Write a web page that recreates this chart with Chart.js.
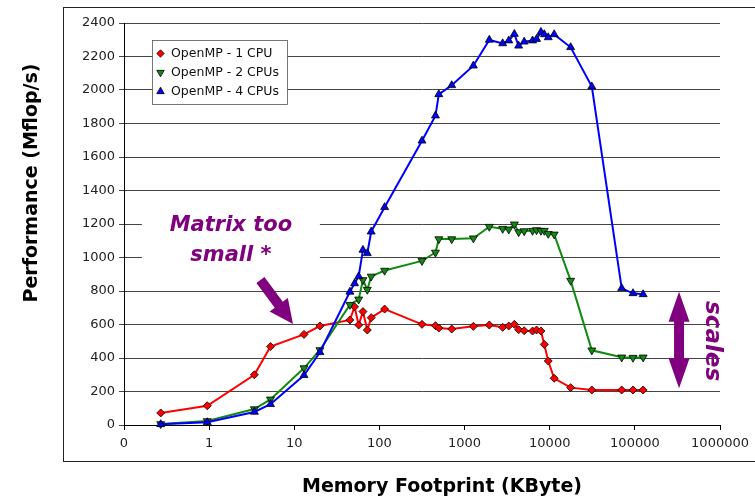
<!DOCTYPE html>
<html>
<head>
<meta charset="utf-8">
<script src="https://cdn.jsdelivr.net/npm/chart.js@4.4.1/dist/chart.umd.min.js"></script>
<style>
  html,body{margin:0;padding:0;background:#fff;}
  #wrap{width:755px;height:497px;position:relative;}
</style>
</head>
<body>
<div id="wrap"><canvas id="chart"></canvas></div>
<script>
// memory footprint (KByte), shared by all three runs
const sizes = [0.27, 0.95, 3.4, 5.25, 13, 20, 45, 51, 57, 64, 72, 80, 115, 316, 455, 498, 706, 1268, 1950,
  2800, 3300, 3840, 4310, 5010, 6280, 7000, 7880, 8630, 9600, 11270, 17600, 31200, 70000, 95000, 125000];
// Mflop/s (null = no mark visible)
const cpu1 = [72, 115, 300, 468, 541, 591, 627, 706, 597, 677, 567, 641, 692, 601, 593, 579, 573, 589, 597,
  583, 591, 601, 569, 563, 561, 567, 561, 481, 382, 279, 223, 209, 209, 209, 209];
const cpu2 = [6, 24, 95, 153, 340, 448, 718, null, 750, 866, 808, 887, 922, 980, 1030, 1110, 1110, 1115, 1184,
  1172, 1168, 1198, 1152, 1158, 1160, 1164, 1160, 1160, 1142, 1138, 862, 446, 404, 402, 404];
const cpu4 = [4, 16, 78, 124, 297, 434, 795, 845, 887, 1045, 1025, 1154, 1300, 1697, 1847, 1974, 2028, 2145, 2299,
  2278, 2295, 2334, 2264, 2288, 2295, 2304, 2346, 2332, 2314, 2332, 2255, 2020, 816, 786, 780];

const seriesNames = ['OpenMP - 1 CPU', 'OpenMP - 2 CPUs', 'OpenMP - 4 CPUs'];
const xTickValues = [0.1, 1, 10, 100, 1000, 10000, 100000, 1000000];
const xTickLabels = ['0', '1', '10', '100', '1000', '10000', '100000', '1000000'];

const FONT = '"DejaVu Sans", Verdana, sans-serif';
const purple = '#800080';

function pts(ys){ return sizes.map((x,i)=>({x:x, y:ys[i]})); }

function series(label, ys, color, style, rot, r, order){
  return {
    label, data: pts(ys), borderColor: color, borderWidth: 2,
    backgroundColor: color, pointBackgroundColor: color,
    pointBorderColor: '#000', pointBorderWidth: 0.8,
    pointStyle: style, pointRotation: rot, pointRadius: r,
    tension: 0, clip: false, spanGaps: true, order
  };
}

// pixel helpers via chart scales
function px(chart, x){ return chart.scales.x.getPixelForValue(x); }
function py(chart, y){ return chart.scales.y.getPixelForValue(y); }

function arrow(ctx, x1, y1, x2, y2, shaftHalf, headLen, headHalf){
  const dx = x2-x1, dy = y2-y1, len = Math.hypot(dx,dy);
  const ux = dx/len, uy = dy/len, nx = -uy, ny = ux;
  const bx = x2-ux*headLen, by = y2-uy*headLen;
  ctx.beginPath();
  ctx.moveTo(x1+nx*shaftHalf, y1+ny*shaftHalf);
  ctx.lineTo(bx+nx*shaftHalf, by+ny*shaftHalf);
  ctx.lineTo(bx+nx*headHalf, by+ny*headHalf);
  ctx.lineTo(x2, y2);
  ctx.lineTo(bx-nx*headHalf, by-ny*headHalf);
  ctx.lineTo(bx-nx*shaftHalf, by-ny*shaftHalf);
  ctx.lineTo(x1-nx*shaftHalf, y1-ny*shaftHalf);
  ctx.closePath();
  ctx.fill();
}

const decor = {
  id: 'decor',
  beforeDraw(chart){
    const ctx = chart.ctx;
    ctx.save();
    ctx.fillStyle = '#fff';
    ctx.fillRect(0,0,chart.width,chart.height);
    ctx.strokeStyle = '#222';
    ctx.lineWidth = 1;
    ctx.strokeRect(63.5, 7.5, chart.width, 454);
    ctx.restore();
  },
  afterDraw(chart){
    const ctx = chart.ctx;
    ctx.save();
    // axis titles
    ctx.fillStyle = '#000';
    ctx.font = 'bold 19px ' + FONT;
    ctx.textAlign = 'center';
    ctx.textBaseline = 'middle';
    ctx.fillText('Memory Footprint (KByte)', 442, 487);
    ctx.save();
    ctx.translate(32, 183);
    ctx.rotate(-Math.PI/2);
    ctx.fillText('Performance (Mflop/s)', 0, 0);
    ctx.restore();

    // legend box
    ctx.fillStyle = '#fff';
    ctx.fillRect(152.5, 40.5, 135, 64);
    ctx.strokeStyle = '#555';
    ctx.strokeRect(152.5, 40.5, 135, 64);
    ctx.font = '12.5px ' + FONT;
    ctx.textAlign = 'left';
    chart.data.datasets.forEach((ds, i)=>{
      const yy = 53.5 + i*19;
      ctx.fillStyle = ds.pointBackgroundColor;
      ctx.strokeStyle = '#000';
      ctx.lineWidth = 0.8;
      Chart.helpers.drawPoint(ctx, {pointStyle: ds.pointStyle, rotation: ds.pointRotation, radius: ds.pointRadius-0.3, borderWidth: 0.8}, 160.5, yy);
      ctx.fillStyle = '#111';
      ctx.fillText(ds.label, 171, yy+0.5);
    });

    // "Matrix too small *" note
    const mx = px(chart, 1.8), my = py(chart, 1100);
    ctx.fillStyle = '#fff';
    ctx.fillRect(mx-89, my-34, 178, 68);
    ctx.fillStyle = purple;
    ctx.font = 'italic bold 21px ' + FONT;
    ctx.textAlign = 'center';
    ctx.fillText('Matrix too', mx, my-15);
    ctx.fillText('small *', mx, my+15);
    arrow(ctx, px(chart, 4.0), py(chart, 866), px(chart, 9.66), py(chart, 603), 5, 24, 11.3);

    // "scales" double arrow
    const sx = px(chart, 330000);
    const top = py(chart, 796), bot = py(chart, 220);
    const mid = (top+bot)/2;
    arrow(ctx, sx, mid, sx, top, 5, 30, 10.5);
    arrow(ctx, sx, mid, sx, bot, 5, 30, 10.5);
    ctx.save();
    ctx.translate(px(chart, 800000), py(chart, 501));
    ctx.rotate(Math.PI/2);
    ctx.font = 'italic bold 23px ' + FONT;
    ctx.fillText('scales', 0, 0);
    ctx.restore();
    ctx.restore();
  }
};

new Chart(document.getElementById('chart'), {
  type: 'line',
  data: {
    datasets: [
      series(seriesNames[0], cpu1, '#ff0000', 'rectRot', 0, 4, 2),
      series(seriesNames[1], cpu2, '#108a10', 'triangle', 180, 4.6, 1),
      series(seriesNames[2], cpu4, '#0000ff', 'triangle', 0, 4.6, 0)
    ]
  },
  options: {
    responsive: true,
    maintainAspectRatio: false,
    animation: false,
    layout: { padding: { top: 23, right: 34, left: 0, bottom: 0 } },
    plugins: { legend: { display: false }, tooltip: { enabled: false } },
    scales: {
      x: {
        type: 'logarithmic', min: 0.1, max: 1000000,
        afterBuildTicks: s => { s.ticks = xTickValues.map(v=>({value:v})); },
        afterFit: s => { s.height = 72; },
        ticks: {
          autoSkip: false, maxRotation: 0, padding: 6,
          color: '#222', font: { family: FONT, size: 13 },
          callback: (v, i) => xTickLabels[i]
        },
        grid: { drawOnChartArea: false, drawTicks: true, tickLength: 5, color: '#000' },
        border: { display: true, color: '#000', width: 1 }
      },
      y: {
        min: 0, max: 2400,
        afterFit: s => { s.width = 124; },
        ticks: { stepSize: 200, padding: 4, color: '#222', font: { family: FONT, size: 13 },
          callback: v => String(v) },
        grid: { color: '#444', lineWidth: 1, tickLength: 5 },
        border: { display: true, color: '#000', width: 1 }
      }
    }
  },
  plugins: [decor]
});
</script>
</body>
</html>
